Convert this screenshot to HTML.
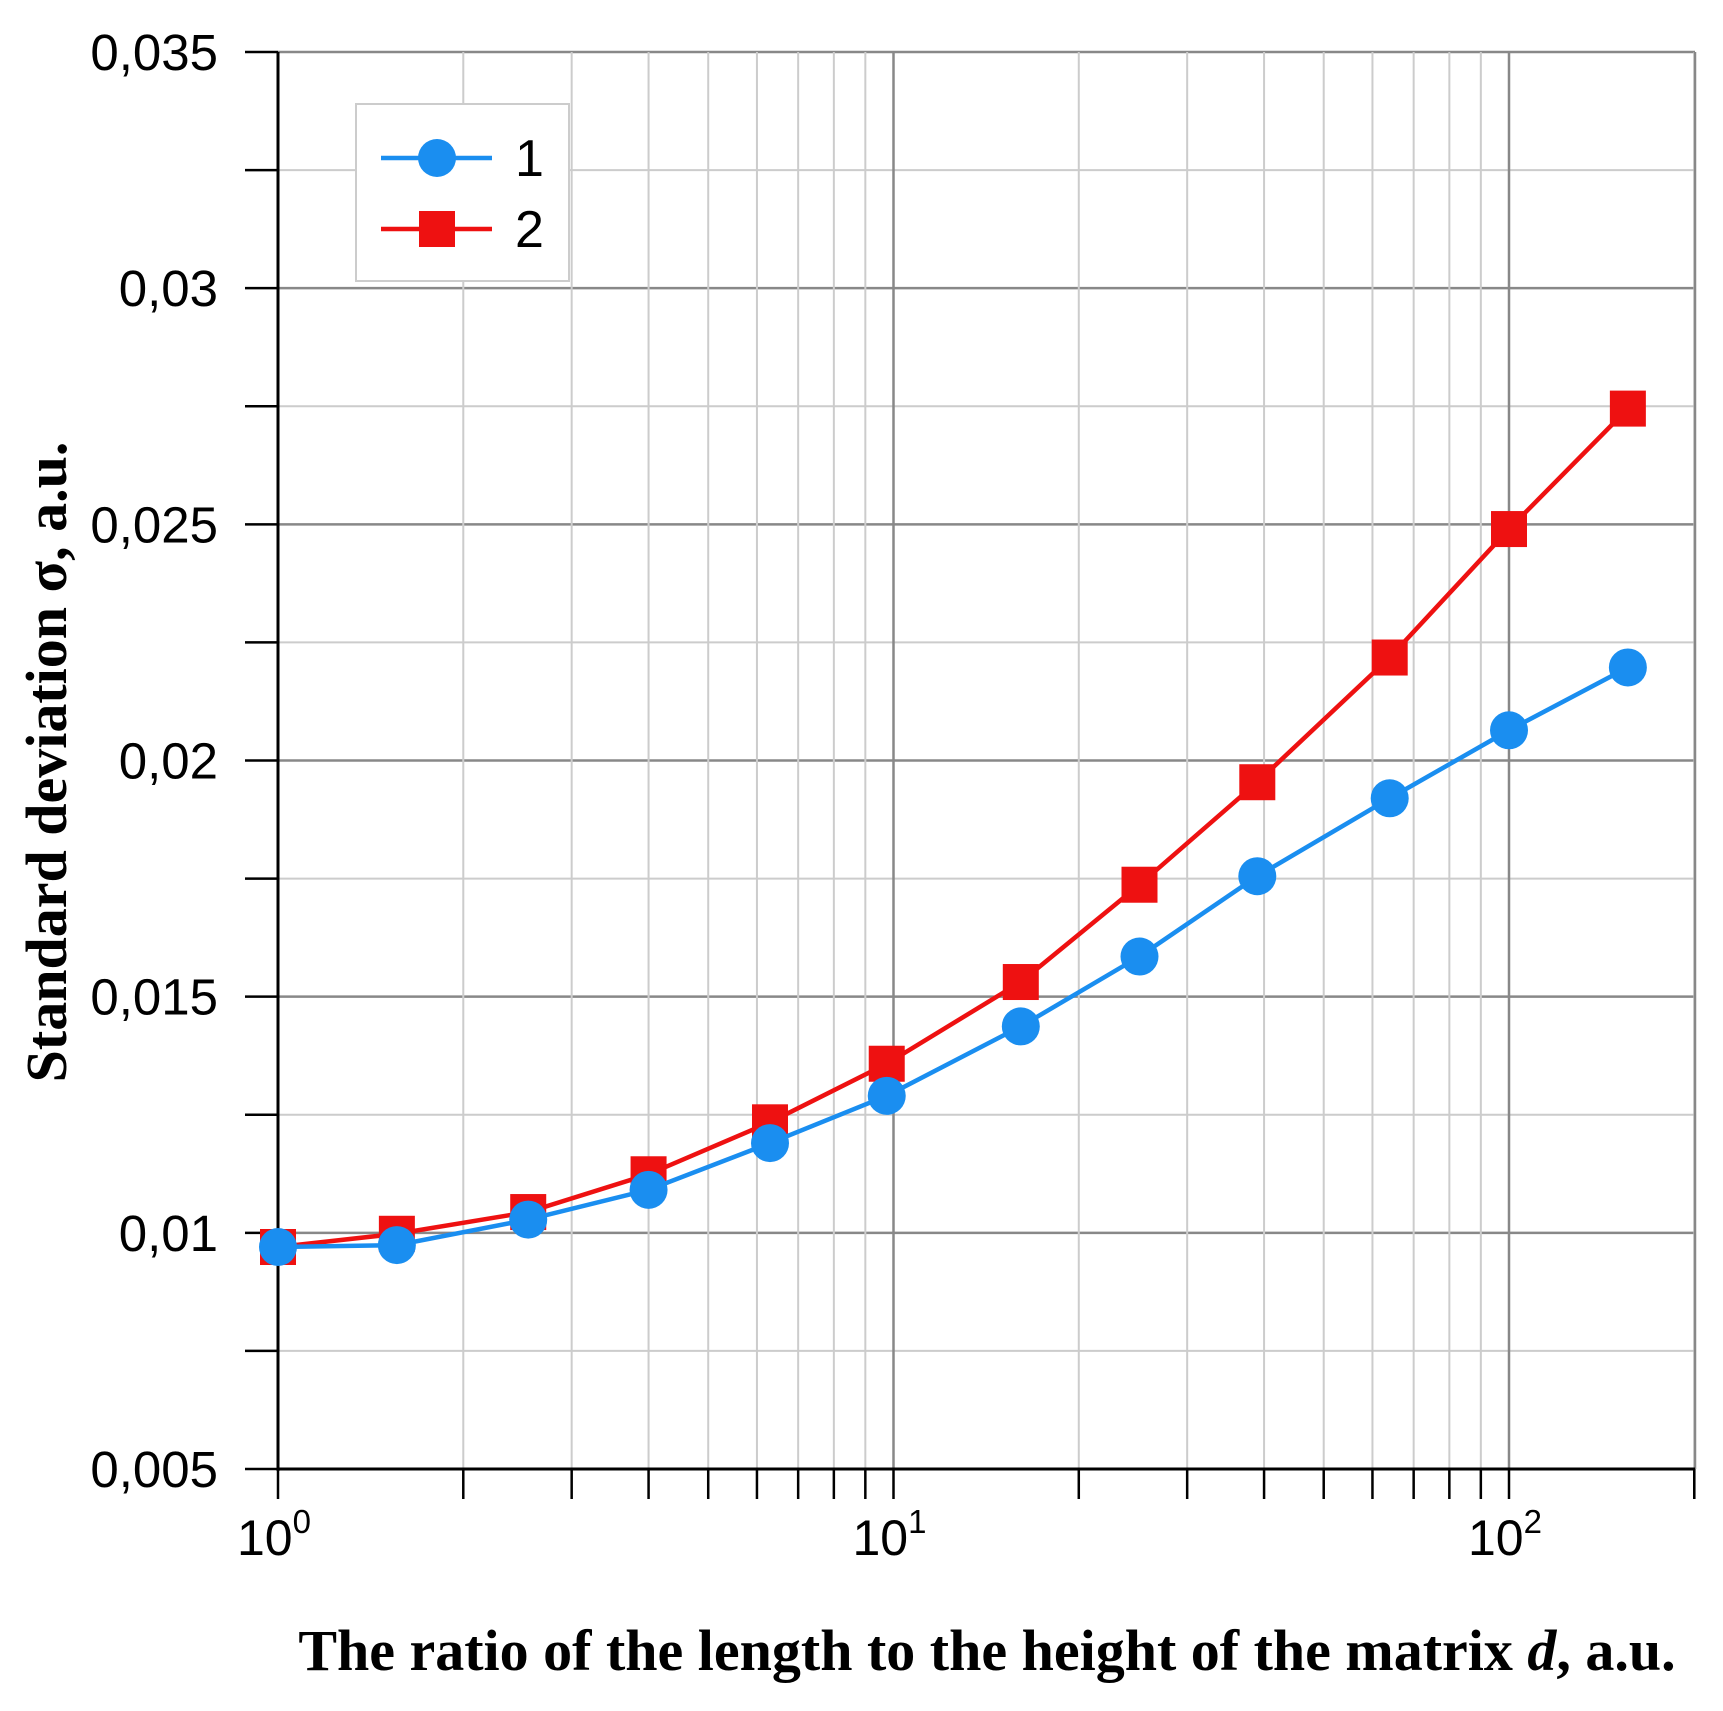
<!DOCTYPE html>
<html><head><meta charset="utf-8"><style>
html,body{margin:0;padding:0;background:#fff;}
svg{display:block;}
</style></head><body>
<svg id="chart" width="1723" height="1711" xmlns="http://www.w3.org/2000/svg">
<g id="grid"></g>
<g id="axes"></g>
<g id="series"></g>
<text transform="translate(66,762) rotate(-90)" text-anchor="middle" font-family="Liberation Serif, serif" font-weight="bold" font-size="58">Standard deviation σ, a.u.</text>
<text x="987" y="1670" text-anchor="middle" font-family="Liberation Serif, serif" font-weight="bold" font-size="58">The ratio of the length to the height of the matrix <tspan font-style="italic">d</tspan>, a.u.</text>
<g>
<rect x="356" y="104" width="213" height="177" fill="#fff" stroke="#ccc" stroke-width="2"/>
<g>
<line x1="381" y1="158" x2="492" y2="158" stroke="#1a8ef0" stroke-width="4.5"/>
<circle cx="437" cy="158" r="19" fill="#1a8ef0"/>
<text x="515" y="176" font-family="Liberation Sans, sans-serif" font-size="52">1</text></g>
<g>
<line x1="381" y1="229" x2="492" y2="229" stroke="#ee1111" stroke-width="4.5"/>
<rect x="419" y="211" width="36" height="36" fill="#ee1111"/>
<text x="515" y="247" font-family="Liberation Sans, sans-serif" font-size="52">2</text></g>
</g>
</svg>
<script>
const xValues=[1,1.56,2.55,4,6.3,9.75,16.1,25.1,39,64,100,156];
const series1=[0.0097,0.00974,0.01028,0.01091,0.0119,0.0129,0.01437,0.01585,0.01755,0.0192,0.02064,0.02197];
const series2=[0.0097,0.00998,0.01044,0.01124,0.01234,0.01358,0.01531,0.01737,0.01954,0.02218,0.0249,0.02745];
const yTicks=[0.005,0.01,0.015,0.02,0.025,0.03,0.035];
const yTickLabels=["0,005","0,01","0,015","0,02","0,025","0,03","0,035"];
const xMin=1,xMax=200,yMin=0.005,yMax=0.035;
const X0=278,X1=1695,Y0=1469,Y1=52;
const dec=615.5;
function sx(v){return X0+Math.log10(v)*dec;}
function sy(v){return Y0-(v-yMin)/(yMax-yMin)*(Y0-Y1);}
const NS="http://www.w3.org/2000/svg";
function mk(tag,attrs,parent){const e=document.createElementNS(NS,tag);for(const k in attrs)e.setAttribute(k,attrs[k]);parent.appendChild(e);return e;}
const grid=document.getElementById('grid'),axes=document.getElementById('axes'),ser=document.getElementById('series');
for(let v=yMin;v<=yMax+1e-9;v+=0.0025){
 const major=Math.abs((v/0.005)-Math.round(v/0.005))<1e-6;
 const y=sy(v);
 const l=mk('line',{x1:X0,x2:X1,y1:y,y2:y,stroke:major?'#888':'#ccc','stroke-width':major?2.5:2},grid);
 
 
 const t=mk('line',{x1:X0-33,x2:X0,y1:y,y2:y,stroke:'#000','stroke-width':2.5},axes);
 
 
}
for(let d=0;d<3;d++){for(let m=1;m<10;m++){const v=m*Math.pow(10,d);if(v>xMax)break;const x=sx(v);
 const l=mk('line',{x1:x,x2:x,y1:Y1,y2:Y0,stroke:m==1?'#888':'#ccc','stroke-width':m==1?2.5:2},grid);
 
 
 const t=mk('line',{x1:x,x2:x,y1:Y0,y2:Y0+30,stroke:'#000','stroke-width':2.5},axes);
 
 
}}
{const x=sx(200);const t=mk('line',{x1:x,x2:x,y1:Y0,y2:Y0+30,stroke:'#000','stroke-width':2.5},axes);

}
mk('line',{x1:X1,x2:X1,y1:Y1,y2:Y0,stroke:'#888','stroke-width':2.5},grid);
let a=mk('line',{x1:X0,x2:X0,y1:Y1,y2:Y0+2,stroke:'#000','stroke-width':3},axes);


a=mk('line',{x1:X0,x2:X1,y1:Y0,y2:Y0,stroke:'#000','stroke-width':3},axes);


yTicks.forEach((v,i)=>{const t=mk('text',{x:X0-60,y:sy(v)+18,'text-anchor':'end','font-family':'Liberation Sans, sans-serif','font-size':51},axes);t.textContent=yTickLabels[i];

});
[0,1,2].forEach(d=>{const t=mk('text',{x:sx(Math.pow(10,d))-4,y:1555,'text-anchor':'middle','font-family':'Liberation Sans, sans-serif','font-size':50},axes);
t.innerHTML='10<tspan dy="-22" font-size="33">'+d+'</tspan>';

});
function line(vals,color,name){const p=mk('polyline',{points:xValues.map((x,i)=>sx(x)+','+sy(vals[i])).join(' '),fill:'none',stroke:color,'stroke-width':4.5},ser);

}
line(series2,'#ee1111','series-2-line');
xValues.forEach((x,i)=>{const r=mk('rect',{x:sx(x)-18,y:sy(series2[i])-18,width:36,height:36,fill:'#ee1111'},ser);

});
line(series1,'#1a8ef0','series-1-line');
xValues.forEach((x,i)=>{const c=mk('circle',{cx:sx(x),cy:sy(series1[i]),r:19,fill:'#1a8ef0'},ser);

});
</script>
</body></html>
